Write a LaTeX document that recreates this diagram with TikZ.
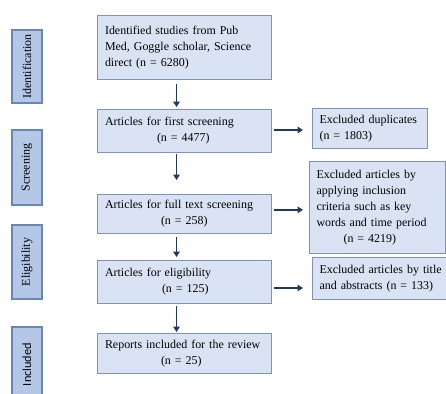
\documentclass[tikz,border=0pt]{standalone}
\usepackage{fontspec}
\setmainfont{Liberation Serif}
\newfontfamily\sidefont{Carlito}
\usetikzlibrary{calc,arrows.meta}
\definecolor{boxfill}{HTML}{DAE3F3}
\definecolor{boxline}{HTML}{7F93B5}
\definecolor{sidefill}{HTML}{B4C7E7}
\definecolor{sideline}{HTML}{6A86B4}
\definecolor{arrowblue}{HTML}{203864}

\begin{document}
\begin{tikzpicture}[x=0.02cm, y=-0.02cm,
  box/.style={draw=boxline, line width=0.6pt, fill=boxfill, anchor=north west,
    align=left, inner xsep=0.15cm, font=\fontsize{6.8}{9.1}\selectfont},
  side/.style={draw=sideline, line width=0.6pt, fill=sidefill, rotate=90,
    minimum height=0.6cm, inner sep=0pt, font=\fontsize{6.8}{9.1}\selectfont},
  arr/.style={arrowblue, line width=1.1pt, -{Triangle[length=3pt,width=3.6pt]}}]

\clip (0,0) rectangle (446,394);

% phase labels on the left
\node[side, minimum width=1.46cm] (sid) at (27,66.5) {Identification};
\node[side, minimum width=1.50cm] (sscr) at (27,167.5) {Screening};
\node[side, minimum width=1.48cm] (selig) at (27,262) {Eligibility};
\node[side, minimum width=1.50cm, font=\sidefont\fontsize{7}{9.1}\selectfont] (sinc) at (27,364.5) {Included};

% main column
\node[box, text width=3.18cm, minimum height=1.28cm] (id) at (97,15)
  {Identified studies from Pub\\Med, Goggle scholar, Science\\direct (n = 6280)\\[0.26cm]};
\node[box, text width=3.18cm, minimum height=0.86cm] (first) at (97,109)
  {Articles for first screening\\\hspace*{1.04cm}(n = 4477)};
\node[box, text width=3.18cm, minimum height=0.70cm] (full) at (97,194)
  {Articles for full text screening\\\hspace*{1.12cm}(n = 258)};
\node[box, text width=3.18cm, minimum height=0.86cm] (elig) at (97,260)
  {Articles for eligibility\\\hspace*{1.14cm}(n = 125)};
\node[box, text width=3.18cm, minimum height=0.80cm] (rep) at (97,333)
  {Reports included for the review\\\hspace*{1.12cm}(n = 25)};

% excluded boxes on the right
\node[box, inner xsep=0.14cm, text width=2.02cm, minimum height=0.80cm] (dup) at (312,108)
  {Excluded duplicates\\(n = 1803)};
\node[box, inner xsep=0.14cm, text width=2.44cm, minimum height=1.84cm] (crit) at (309,161)
  {Excluded articles by\\applying inclusion\\criteria such as key\\words and time period\\\hspace*{0.54cm}(n = 4219)};
\node[box, inner xsep=0.14cm, text width=2.55cm, minimum height=0.84cm] (title) at (312,257)
  {Excluded articles by title\\and abstracts (n = 133)};

% downward arrows
\draw[arr] ($(id.south)+(-8,4)$) -- ($(first.north)+(-8,-2)$);
\draw[arr] ($(first.south)+(-8,1)$) -- ($(full.north)+(-8,-14)$);
\draw[arr] ($(full.south)+(-8,3)$) -- ($(elig.north)+(-8,-3)$);
\draw[arr] ($(elig.south)+(-8,2)$) -- ($(rep.north)+(-8,-1)$);

% arrows to the excluded boxes
\draw[arr] ($(first.east)+(2,-1)$) -- ($(first.east -| dup.west)+(-9,-1)$);
\draw[arr] ($(full.east)+(2,-4)$) -- ($(full.east -| crit.west)+(-6,-4)$);
\draw[arr] ($(elig.east)+(2,6)$) -- ($(elig.east -| title.west)+(-9,6)$);

\end{tikzpicture}
\end{document}
